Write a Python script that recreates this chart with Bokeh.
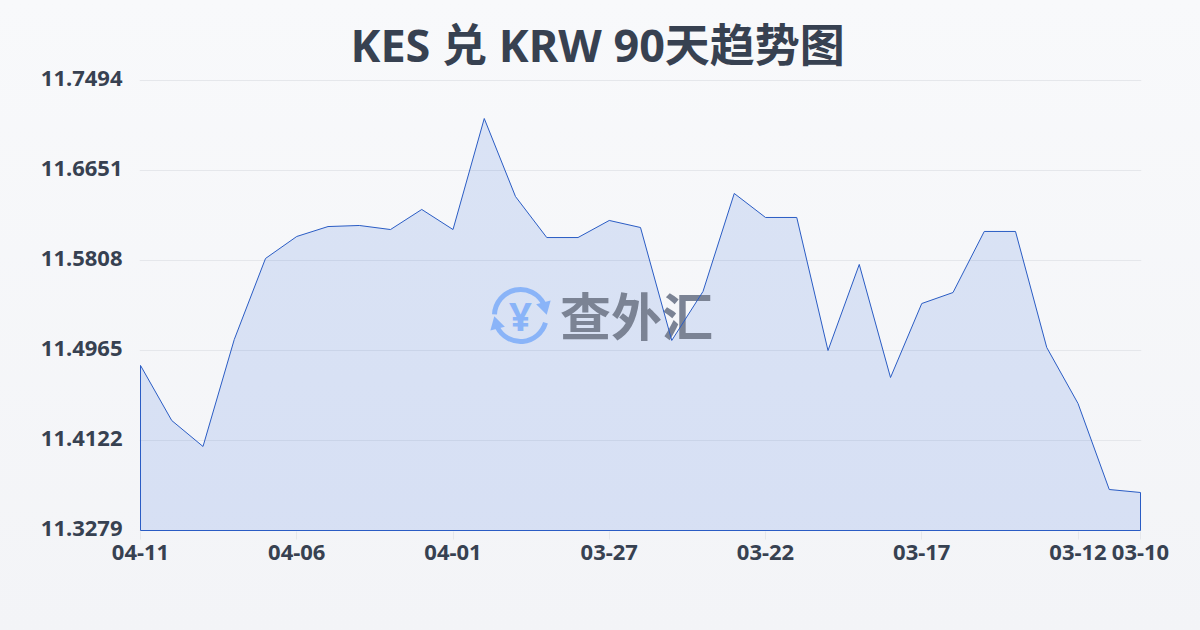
from bokeh.plotting import figure
from bokeh.embed import file_html
from bokeh.resources import INLINE
from bokeh.models import FixedTicker, InlineStyleSheet
from bokeh.core.properties import value

title_text = "KES 兑 KRW 90天趋势图"
x_index = list(range(33))
rates = [11.4825, 11.4309, 11.4066, 11.5068, 11.5827, 11.6033, 11.6126, 11.6136, 11.6098,
         11.6286, 11.6098, 11.7138, 11.6407, 11.6023, 11.6023, 11.6183, 11.6117, 11.5059,
         11.5518, 11.6436, 11.6211, 11.6211, 11.4965, 11.5771, 11.4712, 11.5405, 11.5508,
         11.6080, 11.6080, 11.4993, 11.4469, 11.3663, 11.3635]
x_tick_pos = [0, 5, 10, 15, 20, 25, 30, 32]
x_tick_labels = ["04-11", "04-06", "04-01", "03-27", "03-22", "03-17", "03-12", "03-10"]
y_ticks = [11.3279, 11.4122, 11.4965, 11.5808, 11.6651, 11.7494]
y_tick_labels = ["11.3279", "11.4122", "11.4965", "11.5808", "11.6651", "11.7494"]

W, H = 1200, 630
L, R, T, B = 140, 1140, 80, 530
PAD = 1       # frame margin in pixels, so the outline is not clipped at the frame edge
PAD_TOP = 4   # the top label sits above its grid line and must stay inside the frame
y_lo, y_hi = y_ticks[0], y_ticks[-1]
INK = "#374151"

page_css = InlineStyleSheet(css=""":host{position:fixed !important;left:0;top:0;
background:linear-gradient(180deg,#f8f9fb 0%,#f3f4f7 100%);}""")

def px(sx):
    return (sx - L) / (R - L) * 32

def py(sy):
    return y_hi - (sy - T) / (B - T) * (y_hi - y_lo)

p = figure(width=W, height=H, output_backend="svg", toolbar_location=None,
           x_range=(px(L - PAD), px(R + PAD)), y_range=(py(B + PAD), py(T - PAD_TOP)),
           min_border_left=L - PAD, min_border_right=W - R - PAD,
           min_border_top=T - PAD_TOP, min_border_bottom=H - B - PAD,
           border_fill_color=None, background_fill_color=None, outline_line_color=None,
           stylesheets=[page_css])

# Title
p.title.text = title_text
p.title.align = "left"
p.title.offset = 211
p.title.text_font = "'Noto Sans','Noto Sans CJK SC'"
p.title.text_font_style = "bold"
p.title.text_font_size = "45px"
p.title.text_color = INK
p.title.standoff = 4

# Axes and grid (y labels sit 2px above their grid lines, as in the reference)
label_shift = py(T - 2) - py(T)
y_label_pos = [t + label_shift for t in y_ticks]
p.xaxis.ticker = FixedTicker(ticks=x_tick_pos)
p.xaxis.major_label_overrides = dict(zip(x_tick_pos, x_tick_labels))
p.yaxis.ticker = FixedTicker(ticks=y_label_pos)
p.yaxis.major_label_overrides = dict(zip(y_label_pos, y_tick_labels))
p.xaxis.axis_line_color = None
p.yaxis.axis_line_color = None
p.xaxis.major_tick_line_color = "#e5e7eb"
p.xaxis.major_tick_in = 0
p.xaxis.major_tick_out = 8
p.xaxis.minor_tick_line_color = None
p.yaxis.major_tick_line_color = None
p.yaxis.minor_tick_line_color = None
for ax in (p.xaxis, p.yaxis):
    ax.major_label_text_font = "Noto Sans"
    ax.major_label_text_font_style = "bold"
    ax.major_label_text_font_size = "22px"
    ax.major_label_text_color = INK
p.xaxis.major_label_standoff = 5
p.yaxis.major_label_standoff = 11
p.xgrid.grid_line_color = None
p.ygrid.ticker = FixedTicker(ticks=y_ticks)
p.ygrid.grid_line_color = "#e5e7eb"
p.ygrid.grid_line_width = 1

# Area fill
poly_x = x_index + [x_index[-1], x_index[0]]
poly_y = rates + [y_lo, y_lo]
p.patch(poly_x, poly_y, fill_color="#2a62dd", fill_alpha=0.14, line_color=None)

# Watermark: logo and name
LOGO = "#8ab4f8"
cx, cy, r = px(520), py(315), 26
p.arc(x=[cx], y=[cy], radius=r, radius_units="screen", start_angle=0.45, end_angle=3.1,
      line_color=LOGO, line_width=5)
p.arc(x=[cx], y=[cy], radius=r, radius_units="screen", start_angle=3.6, end_angle=6.0,
      line_color=LOGO, line_width=5)
p.scatter(x=[px(544)], y=[py(306)], marker="triangle", size=15, angle=3.4,
          fill_color=LOGO, line_color=None)
p.scatter(x=[px(496)], y=[py(324)], marker="triangle", size=15, angle=0.26,
          fill_color=LOGO, line_color=None)
p.text(x=[cx], y=[cy], text=["¥"], text_font=value("Noto Sans"), text_font_style="bold",
       text_font_size="40px", text_color=LOGO, text_align="center", text_baseline="middle")
p.text(x=[px(636)], y=[py(313.5)], text=["查外汇"], text_font=value("Noto Sans CJK SC"),
       text_font_style="bold", text_font_size="51px", text_color="#7b8394",
       text_align="center", text_baseline="middle")

# Outline
p.patch(poly_x, poly_y, fill_color=None, line_color="#2a5cc4", line_width=1)

open("out.html", "w").write(file_html(p, INLINE))
